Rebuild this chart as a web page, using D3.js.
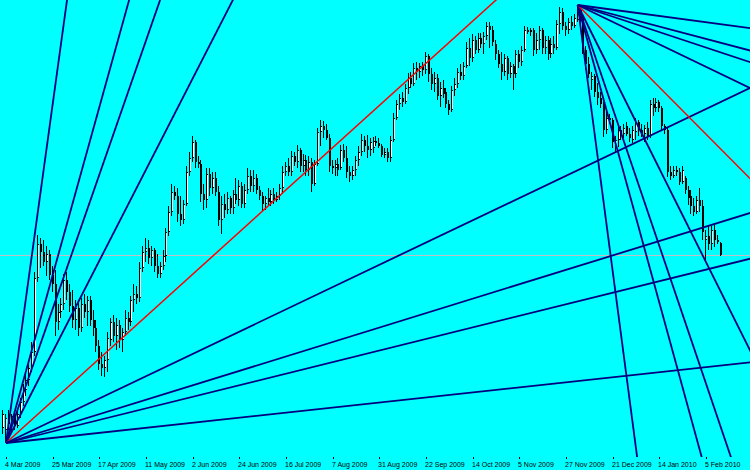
<!DOCTYPE html>
<html><head><meta charset="utf-8">
<script src="https://cdn.jsdelivr.net/npm/d3@7/dist/d3.min.js"></script>
<style>html,body{margin:0;padding:0;background:#00ffff;overflow:hidden}svg{display:block}</style>
</head><body>
<svg id="chart" width="750" height="470"></svg>
<script>
// EURUSD daily, bar 0 = 3 Mar 2009 ... bar 246 = 12 Feb 2010
const open = [1.2552,1.2540,1.2612,1.2576,1.2624,1.2564,1.2636,1.2708,1.2780,1.2840,1.2912,1.3008,1.3452,1.3656,1.3608,1.3548,1.3596,1.3470,1.3416,1.3188,1.3248,1.3296,1.3440,1.3368,1.3284,1.3200,1.3272,1.3152,1.3296,1.3248,1.3320,1.3200,1.3152,1.3044,1.2936,1.2912,1.2960,1.3080,1.3188,1.3104,1.3170,1.3080,1.3128,1.3212,1.3188,1.3320,1.3356,1.3332,1.3512,1.3608,1.3632,1.3572,1.3620,1.3524,1.3476,1.3524,1.3584,1.3728,1.3848,1.3968,1.3944,1.3836,1.3800,1.3896,1.4088,1.4172,1.4268,1.4148,1.4136,1.3956,1.3920,1.4076,1.3992,1.4052,1.3968,1.3800,1.3896,1.3860,1.3932,1.3872,1.3956,1.3920,1.4004,1.3896,1.3980,1.4064,1.4004,1.4052,1.3980,1.3944,1.3896,1.3932,1.3908,1.3956,1.3920,1.3944,1.3992,1.4088,1.4124,1.4088,1.4184,1.4148,1.4220,1.4124,1.4160,1.4100,1.4148,1.4016,1.4136,1.4328,1.4364,1.4340,1.4292,1.4124,1.4112,1.4136,1.4112,1.4220,1.4172,1.4088,1.4064,1.4100,1.4160,1.4208,1.4280,1.4244,1.4220,1.4232,1.4274,1.4262,1.4244,1.4190,1.4208,1.4172,1.4280,1.4412,1.4496,1.4532,1.4508,1.4592,1.4652,1.4616,1.4712,1.4688,1.4724,1.4700,1.4784,1.4676,1.4616,1.4652,1.4544,1.4592,1.4568,1.4496,1.4460,1.4580,1.4616,1.4688,1.4664,1.4724,1.4832,1.4772,1.4880,1.4820,1.4892,1.4856,1.4904,1.4964,1.4940,1.4856,1.4796,1.4736,1.4688,1.4772,1.4676,1.4724,1.4676,1.4796,1.4748,1.4820,1.4940,1.4928,1.4940,1.4820,1.4880,1.4940,1.4832,1.4880,1.4796,1.4856,1.4832,1.4976,1.5048,1.4964,1.4940,1.4988,1.4964,1.5000,1.5060,1.5012,1.4820,1.4736,1.4640,1.4664,1.4568,1.4532,1.4496,1.4340,1.4412,1.4400,1.4232,1.4280,1.4340,1.4316,1.4364,1.4316,1.4280,1.4328,1.4388,1.4340,1.4316,1.4352,1.4304,1.4496,1.4472,1.4508,1.4472,1.4364,1.4340,1.4088,1.4064,1.4100,1.4088,1.4028,1.4052,1.3980,1.3944,1.3884,1.3848,1.3920,1.3884,1.3680,1.3704,1.3656,1.3740,1.3680,1.3662];
const high = [1.2660,1.2636,1.2660,1.2636,1.2648,1.2660,1.2732,1.2816,1.2876,1.2936,1.3068,1.3488,1.3710,1.3692,1.3680,1.3644,1.3620,1.3524,1.3500,1.3296,1.3332,1.3476,1.3488,1.3416,1.3380,1.3320,1.3308,1.3332,1.3356,1.3344,1.3344,1.3260,1.3200,1.3080,1.3008,1.2984,1.3128,1.3212,1.3230,1.3212,1.3200,1.3152,1.3260,1.3248,1.3344,1.3416,1.3404,1.3548,1.3644,1.3692,1.3680,1.3644,1.3632,1.3596,1.3548,1.3620,1.3752,1.3884,1.4016,1.4004,1.3992,1.3944,1.3920,1.4124,1.4208,1.4304,1.4280,1.4184,1.4160,1.4016,1.4112,1.4112,1.4088,1.4088,1.4004,1.3944,1.3956,1.3968,1.3944,1.3980,1.4052,1.4040,1.4028,1.4016,1.4112,1.4100,1.4100,1.4076,1.4004,1.3968,1.3944,1.3992,1.3980,1.3992,1.3968,1.4016,1.4124,1.4148,1.4172,1.4214,1.4208,1.4250,1.4232,1.4196,1.4190,1.4184,1.4172,1.4160,1.4352,1.4400,1.4394,1.4376,1.4316,1.4160,1.4160,1.4172,1.4250,1.4256,1.4244,1.4124,1.4124,1.4184,1.4244,1.4316,1.4304,1.4310,1.4292,1.4298,1.4304,1.4292,1.4256,1.4232,1.4232,1.4304,1.4442,1.4520,1.4556,1.4568,1.4616,1.4682,1.4688,1.4742,1.4748,1.4742,1.4748,1.4808,1.4796,1.4712,1.4688,1.4676,1.4628,1.4640,1.4592,1.4520,1.4604,1.4652,1.4712,1.4736,1.4748,1.4868,1.4892,1.4916,1.4904,1.4922,1.4922,1.4928,1.4988,1.4988,1.4964,1.4880,1.4820,1.4808,1.4796,1.4784,1.4748,1.4736,1.4820,1.4820,1.4844,1.4964,1.4958,1.4952,1.4952,1.4922,1.4964,1.4952,1.4904,1.4904,1.4892,1.4904,1.5000,1.5078,1.5072,1.4988,1.5012,1.5024,1.5036,1.5090,1.5072,1.5024,1.4844,1.4778,1.4688,1.4676,1.4622,1.4568,1.4520,1.4448,1.4436,1.4412,1.4304,1.4370,1.4364,1.4376,1.4388,1.4352,1.4364,1.4412,1.4400,1.4376,1.4370,1.4388,1.4520,1.4532,1.4532,1.4520,1.4484,1.4376,1.4352,1.4124,1.4124,1.4124,1.4112,1.4124,1.4064,1.4004,1.3980,1.3932,1.3944,1.3992,1.3920,1.3740,1.3764,1.3764,1.3770,1.3710,1.3668];
const low = [1.2516,1.2462,1.2540,1.2528,1.2540,1.2552,1.2612,1.2684,1.2744,1.2804,1.2888,1.2984,1.3428,1.3512,1.3524,1.3464,1.3440,1.3368,1.3104,1.3140,1.3212,1.3260,1.3320,1.3248,1.3152,1.3140,1.3104,1.3128,1.3212,1.3164,1.3164,1.3104,1.3008,1.2900,1.2864,1.2858,1.2888,1.3044,1.3068,1.3020,1.3032,1.3008,1.3104,1.3140,1.3164,1.3248,1.3296,1.3308,1.3488,1.3548,1.3536,1.3524,1.3488,1.3452,1.3452,1.3500,1.3548,1.3704,1.3824,1.3920,1.3788,1.3764,1.3776,1.3884,1.4064,1.4148,1.4112,1.4112,1.3908,1.3860,1.3872,1.3944,1.3956,1.3944,1.3764,1.3716,1.3812,1.3836,1.3836,1.3836,1.3896,1.3884,1.3872,1.3872,1.3956,1.3968,1.3968,1.3956,1.3920,1.3854,1.3860,1.3884,1.3884,1.3896,1.3908,1.3920,1.3956,1.4064,1.4064,1.4064,1.4124,1.4112,1.4088,1.4088,1.4064,1.4064,1.3968,1.4004,1.4124,1.4244,1.4292,1.4280,1.4088,1.4076,1.4064,1.4064,1.4100,1.4148,1.4052,1.4028,1.4040,1.4064,1.4124,1.4184,1.4208,1.4172,1.4184,1.4202,1.4244,1.4232,1.4178,1.4172,1.4148,1.4148,1.4268,1.4400,1.4460,1.4478,1.4496,1.4556,1.4592,1.4604,1.4640,1.4652,1.4664,1.4676,1.4628,1.4580,1.4568,1.4520,1.4478,1.4532,1.4472,1.4430,1.4448,1.4544,1.4592,1.4640,1.4640,1.4712,1.4724,1.4748,1.4796,1.4802,1.4832,1.4796,1.4880,1.4832,1.4844,1.4760,1.4712,1.4640,1.4664,1.4640,1.4652,1.4580,1.4652,1.4712,1.4724,1.4808,1.4916,1.4904,1.4784,1.4796,1.4820,1.4796,1.4796,1.4760,1.4772,1.4796,1.4820,1.4916,1.4940,1.4904,1.4916,1.4940,1.4952,1.4988,1.4988,1.4796,1.4700,1.4652,1.4580,1.4538,1.4490,1.4472,1.4298,1.4316,1.4376,1.4232,1.4202,1.4238,1.4280,1.4292,1.4304,1.4268,1.4262,1.4280,1.4304,1.4298,1.4268,1.4280,1.4292,1.4424,1.4448,1.4448,1.4340,1.4316,1.4058,1.4040,1.4052,1.4064,1.4010,1.4016,1.3956,1.3890,1.3836,1.3824,1.3836,1.3848,1.3680,1.3560,1.3620,1.3620,1.3638,1.3656,1.3584];
const close = [1.2636,1.2612,1.2576,1.2624,1.2564,1.2636,1.2708,1.2780,1.2840,1.2912,1.3008,1.3452,1.3656,1.3608,1.3548,1.3596,1.3470,1.3416,1.3188,1.3248,1.3296,1.3440,1.3368,1.3284,1.3200,1.3272,1.3152,1.3296,1.3248,1.3320,1.3200,1.3152,1.3044,1.2936,1.2912,1.2960,1.3092,1.3188,1.3104,1.3170,1.3080,1.3128,1.3212,1.3188,1.3320,1.3356,1.3332,1.3512,1.3608,1.3632,1.3572,1.3620,1.3524,1.3476,1.3524,1.3584,1.3728,1.3848,1.3968,1.3944,1.3836,1.3800,1.3896,1.4088,1.4172,1.4268,1.4148,1.4136,1.3956,1.3920,1.4076,1.3992,1.4052,1.3968,1.3800,1.3896,1.3860,1.3932,1.3872,1.3956,1.3920,1.4004,1.3896,1.3980,1.4064,1.4004,1.4052,1.3980,1.3944,1.3896,1.3932,1.3908,1.3956,1.3920,1.3944,1.3992,1.4088,1.4124,1.4088,1.4184,1.4148,1.4220,1.4124,1.4160,1.4100,1.4148,1.4016,1.4136,1.4328,1.4364,1.4340,1.4292,1.4124,1.4112,1.4136,1.4100,1.4220,1.4172,1.4088,1.4064,1.4100,1.4160,1.4208,1.4280,1.4244,1.4220,1.4268,1.4274,1.4262,1.4244,1.4190,1.4208,1.4172,1.4280,1.4412,1.4496,1.4532,1.4508,1.4592,1.4652,1.4616,1.4712,1.4688,1.4724,1.4700,1.4784,1.4676,1.4616,1.4652,1.4544,1.4592,1.4556,1.4496,1.4460,1.4580,1.4616,1.4688,1.4664,1.4724,1.4832,1.4772,1.4880,1.4820,1.4892,1.4856,1.4904,1.4964,1.4940,1.4868,1.4796,1.4736,1.4688,1.4772,1.4676,1.4724,1.4676,1.4796,1.4748,1.4820,1.4940,1.4928,1.4940,1.4820,1.4880,1.4940,1.4832,1.4880,1.4796,1.4856,1.4832,1.4976,1.5048,1.4964,1.4940,1.4988,1.4964,1.5012,1.5060,1.5012,1.4820,1.4736,1.4676,1.4664,1.4568,1.4532,1.4496,1.4340,1.4412,1.4400,1.4268,1.4280,1.4340,1.4316,1.4352,1.4316,1.4292,1.4340,1.4388,1.4340,1.4316,1.4352,1.4304,1.4496,1.4472,1.4508,1.4472,1.4364,1.4340,1.4088,1.4064,1.4100,1.4088,1.4028,1.4100,1.3980,1.3932,1.3884,1.3848,1.3920,1.3884,1.3728,1.3704,1.3656,1.3740,1.3680,1.3668,1.3590];

const tickLabels = ["4 Mar 2009","25 Mar 2009","17 Apr 2009","11 May 2009","2 Jun 2009","24 Jun 2009","16 Jul 2009","7 Aug 2009","31 Aug 2009","22 Sep 2009","14 Oct 2009","5 Nov 2009","27 Nov 2009","21 Dec 2009","14 Jan 2010","5 Feb 2010"];
const tickBars = [1,17,33,49,65,81,97,113,129,145,161,177,193,209,225,241];

// Gann fans: origin (bar, price), 1x1 slope in price per bar, angle ratios
const fanOriginBars = [1, 197];
const fanOriginPrices = [1.2462, 1.5090];
const fanUnitSlopes = [0.001582, -0.001762];
const fan1Ratios = [8.03, 3.98, 3.18, 2.16, 1, 0.528, 0.342, 0.274, 0.120];
const fan2Ratios = [7.55, 3.62, 2.93, 1.99, 1, 0.479, 0.329, 0.262, 0.133];

const W = 750, H = 470, plotBottom = 457;
const svg = d3.select("#chart");
svg.append("rect").attr("width", W).attr("height", H).attr("fill", "#00ffff");

const x = d3.scaleLinear().domain([1, 241]).range([6, 706]);
const y = d3.scaleLinear().domain([1.2450, 1.5150]).range([445, -5]);

svg.append("defs").append("clipPath").attr("id", "plot")
  .append("rect").attr("x", 0).attr("y", 0).attr("width", W).attr("height", plotBottom);

const plot = svg.append("g").attr("clip-path", "url(#plot)");

// bid line
const lastClose = close[close.length - 1];
plot.append("line")
  .attr("x1", 0).attr("x2", W)
  .attr("y1", Math.round(y(lastClose)) + 0.5).attr("y2", Math.round(y(lastClose)) + 0.5)
  .attr("stroke", "#c0c0c0").attr("stroke-width", 1);

// candles
const bars = d3.range(open.length).map(i => ({i, o: open[i], h: high[i], l: low[i], c: close[i]}));
const cg = plot.append("g").attr("shape-rendering", "crispEdges");
const cand = cg.selectAll("g").data(bars).join("g");
const cx = d => Math.round(x(d.i));
const yTop = d => Math.round(y(Math.max(d.o, d.c)));
const yBot = d => Math.round(y(Math.min(d.o, d.c)));
cand.append("rect")
  .attr("x", d => cx(d) - 1).attr("width", 1)
  .attr("y", d => Math.round(y(d.h)))
  .attr("height", d => Math.max(1, Math.round(y(d.l)) - Math.round(y(d.h))))
  .attr("fill", "#000");
cand.append("rect")
  .attr("x", d => cx(d) - 1).attr("width", 2)
  .attr("y", d => yTop(d))
  .attr("height", d => Math.max(1, yBot(d) - yTop(d)))
  .attr("fill", "#000");
cand.filter(d => d.c >= d.o && yBot(d) - yTop(d) > 2).append("rect")
  .attr("x", d => cx(d)).attr("width", 1)
  .attr("y", d => yTop(d) + 1)
  .attr("height", d => yBot(d) - yTop(d) - 2)
  .attr("fill", "#fff");

// Gann fans
const fanRatios = [fan1Ratios, fan2Ratios];
const ext = 600;
fanOriginBars.forEach((b0, f) => {
  const p0 = fanOriginPrices[f];
  fanRatios[f].forEach(r => {
    const p1 = p0 + fanUnitSlopes[f] * r * ext;
    plot.append("line")
      .attr("x1", x(b0)).attr("y1", y(p0))
      .attr("x2", x(b0 + ext)).attr("y2", y(p1))
      .attr("stroke", r === 1 ? "#ff0000" : "#000080")
      .attr("stroke-width", r === 1 ? 1.5 : 1.8);
  });
});

// time axis
const ax = svg.append("g");
ax.selectAll("line").data(tickBars).join("line")
  .attr("x1", d => Math.round(x(d)) + 0.5).attr("x2", d => Math.round(x(d)) + 0.5)
  .attr("y1", plotBottom).attr("y2", plotBottom + 2)
  .attr("stroke", "#000").attr("shape-rendering", "crispEdges");
ax.selectAll("text").data(tickBars).join("text")
  .attr("x", d => Math.round(x(d)) - 1)
  .attr("y", 467)
  .attr("font-family", "Liberation Sans, Arial, sans-serif")
  .attr("font-size", "7px")
  .attr("fill", "#000")
  .text((d, i) => tickLabels[i]);
</script>
</body></html>
